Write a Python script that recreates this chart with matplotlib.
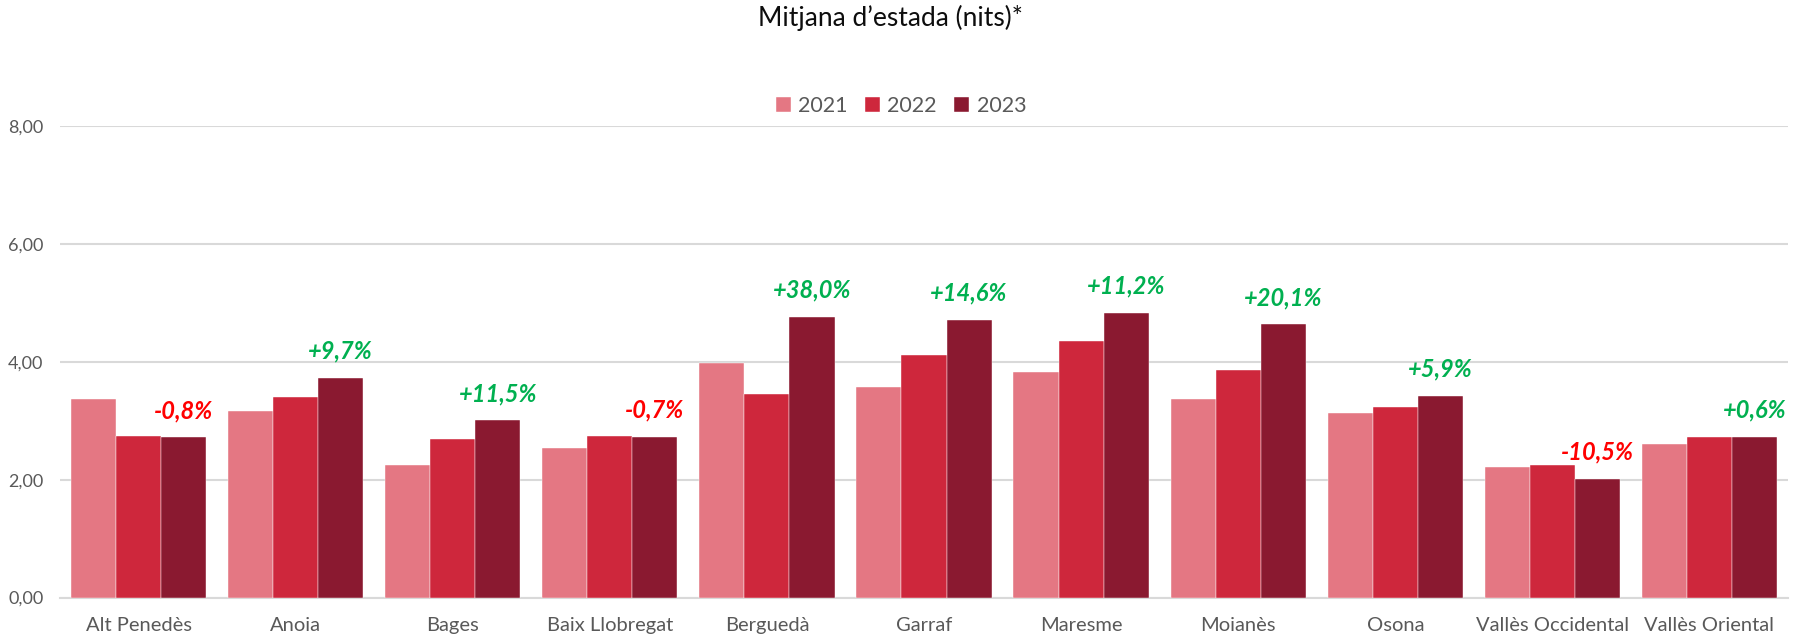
import numpy as np
import matplotlib.pyplot as plt

# data
comarques = ["Alt Penedès", "Anoia", "Bages", "Baix Llobregat", "Berguedà", "Garraf",
             "Maresme", "Moianès", "Osona", "Vallès Occidental", "Vallès Oriental"]
anys = ["2021", "2022", "2023"]
v2021 = [3.38, 3.16, 2.25, 2.54, 3.99, 3.57, 3.83, 3.38, 3.13, 2.22, 2.60]
v2022 = [2.74, 3.40, 2.70, 2.75, 3.46, 4.12, 4.36, 3.87, 3.24, 2.25, 2.72]
v2023 = [2.72, 3.73, 3.01, 2.73, 4.77, 4.72, 4.84, 4.64, 3.43, 2.02, 2.73]
variacio = [-0.8, 9.7, 11.5, -0.7, 38.0, 14.6, 11.2, 20.1, 5.9, -10.5, 0.6]

colors = ["#E47783", "#CE273C", "#8A1930"]
plt.rcParams['font.family'] = ['Lato', 'DejaVu Sans']

fig = plt.figure(figsize=(18.02, 6.38), dpi=100)
ax = fig.add_axes([60/1802, 1-597.6/638, 1728/1802, (597.6-126.4)/638])

x = np.arange(len(comarques))
w = 0.287
series = [v2021, v2022, v2023]
for i, vals in enumerate(series):
	ax.bar(x+(i-1)*w, vals, width=w, color=colors[i], label=anys[i],
		edgecolor="white", linewidth=0.3, zorder=3)

#percentage labels above the 2023 bar
for xi, top, p in zip(x, v2023, variacio):
	txt = ("+" if p >= 0 else "") + ("%.1f" % p).replace(".", ",") + "%"
	col = "#00B050" if p >= 0 else "#FF0000"
	ax.annotate(txt, (xi+w, top), xytext=(0, 11), textcoords="offset points",
		ha="center", va="bottom", fontsize=17, fontweight="bold", fontstyle="italic", color=col)

ax.set_xlim(-0.5, len(comarques)-0.5)
ax.set_ylim(0, 8)
ax.set_yticks([0, 2, 4, 6, 8])
ax.set_yticklabels(["0,00", "2,00", "4,00", "6,00", "8,00"])
ax.set_xticks(x)
ax.set_xticklabels(comarques)
ax.tick_params(axis="both", length=0, labelsize=13, colors="#595959")
ax.tick_params(axis="x", labelsize=14.5, pad=14)
ax.tick_params(axis="y", pad=12)
ax.grid(axis="y", color="#D9D9D9", linewidth=1.5, zorder=0)
for s in ["top", "right", "left"]:
	ax.spines[s].set_visible(False)
ax.spines["bottom"].set_color("#D9D9D9")
ax.spines["bottom"].set_linewidth(1.5)

fig.text(890/1802, 1-18/638, "Mitjana d’estada (nits)*", ha="center", va="center",
	fontsize=19, color="#0D0D0D")

fig.legend(loc="center", bbox_to_anchor=(901/1802, 1-106/638), ncol=3, frameon=False,
	fontsize=15.5, handlelength=0.7, handleheight=0.7, handletextpad=0.35, columnspacing=0.8,
	labelcolor="#595959")

fig.savefig("out.png", dpi=100)
